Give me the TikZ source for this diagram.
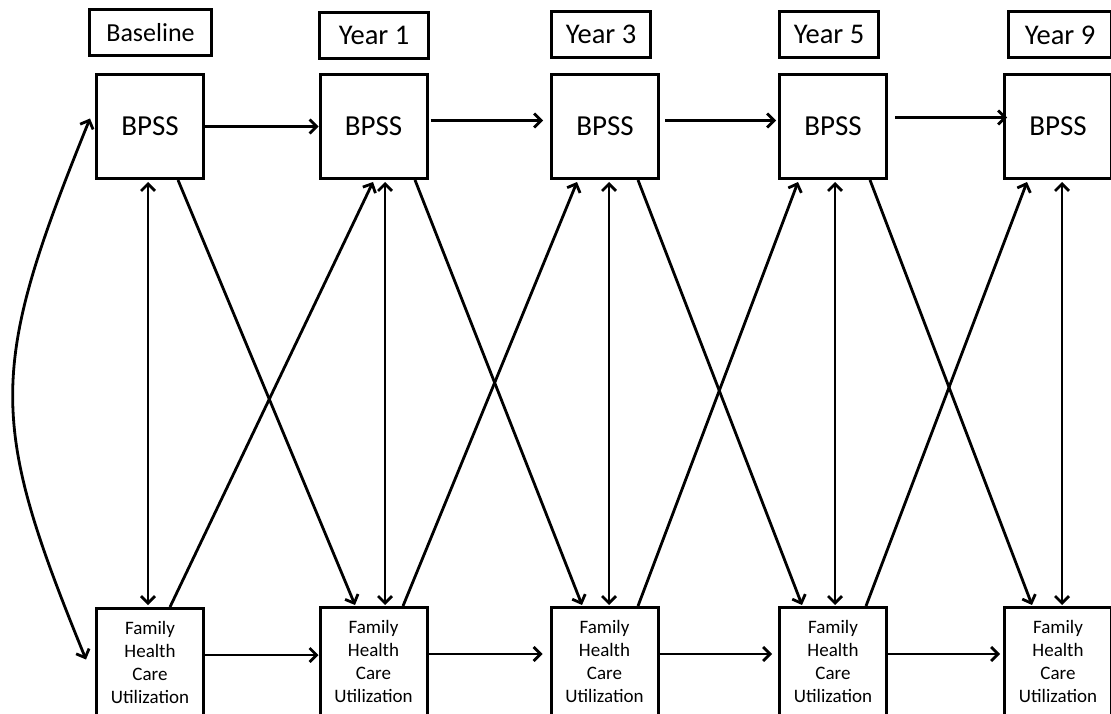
\documentclass[tikz,border=0pt]{standalone}
\usepackage{fontspec}
\setmainfont{Carlito}
\usetikzlibrary{arrows.meta,calc}
\begin{document}
\begin{tikzpicture}[x=1pt,y=-1pt,
  box/.style={draw,line width=3pt,inner sep=0pt},
  bpss/.style={box,minimum width=107pt,minimum height=104pt,font=\fontsize{29}{31}\selectfont},
  fhcu/.style={box,minimum width=107pt,minimum height=108pt,align=center,font=\fontsize{19}{23}\selectfont},
  lab/.style={box,minimum height=46pt,font=\fontsize{28.5}{30}\selectfont},
  tipa/.tip={Straight Barb[length=7pt,width=14pt]},
  arr/.style={line width=2.8pt,-tipa},
  darr/.style={line width=2.8pt,tipa-tipa}]
\useasboundingbox (0,0) rectangle (1111,714);
\clip (0,0) rectangle (1111,714);
% labels
\node[lab,minimum width=122pt,font=\fontsize{26}{28}\selectfont] (l0) at (150.5,33) {Baseline};
\node[lab,minimum width=109pt] (l1) at (374,35.5) {Year 1};
\node[lab,minimum width=99pt] (l2) at (601,34.5) {Year 3};
\node[lab,minimum width=99pt] (l3) at (829,34.5) {Year 5};
\node[lab,minimum width=103pt] (l4) at (1060,35) {Year 9};
% BPSS
\node[bpss] (b0) at (150,126.5) {BPSS};
\node[bpss] (b1) at (373.5,126.5) {BPSS};
\node[bpss] (b2) at (605,126.5) {BPSS};
\node[bpss] (b3) at (833,126.5) {BPSS};
\node[bpss] (b4) at (1058,126.5) {BPSS};
% FHCU
\node[fhcu] (f0) at (150,662.5) {Family\\Health\\Care\\Utilization};
\node[fhcu] (f1) at (373.5,661.5) {Family\\Health\\Care\\Utilization};
\node[fhcu] (f2) at (604.5,661.5) {Family\\Health\\Care\\Utilization};
\node[fhcu] (f3) at (833,661.5) {Family\\Health\\Care\\Utilization};
\node[fhcu] (f4) at (1058,661.5) {Family\\Health\\Care\\Utilization};
% horizontal top
\draw[arr] (b0.east) -- (b1.west);
\draw[arr] ($(b1.east)+(2,-6)$) -- ($(b2.west)+(-7,-6)$);
\draw[arr] ($(b2.east)+(5,-6)$) -- ($(b3.west)+(-2,-6)$);
\draw[arr] ($(b3.east)+(7,-9)$) -- ($(b4.west)+(4,-9)$);
% horizontal bottom
\draw[arr] ($(f0.east)+(0,-7.5)$) -- ($(f1.west)+(0,-6.5)$);
\draw[arr] ($(f1.east)+(0,-7.5)$) -- ($(f2.west)+(-7,-7.5)$);
\draw[arr] ($(f2.east)+(0,-7.5)$) -- ($(f3.west)+(-6,-7.5)$);
\draw[arr] ($(f3.east)+(0,-7.5)$) -- ($(f4.west)+(-3,-7.5)$);
% vertical double
\draw[darr] ($(b0.south)+(-2,2)$) -- ($(f0.north)+(-2,-2)$);
\draw[darr] ($(b1.south)+(11.5,2)$) -- ($(f1.north)+(11.5,-1)$);
\draw[darr] ($(b2.south)+(4,2)$) -- ($(f2.north)+(4.5,-1)$);
\draw[darr] ($(b3.south)+(2,2)$) -- ($(f3.north)+(2,-1)$);
\draw[darr] ($(b4.south)+(4,2)$) -- ($(f4.north)+(4,-1)$);
% diagonals down
\draw[arr] ($(b0.south)+(28,0)$) -- ($(f1.north)+(-18.5,-1)$);
\draw[arr] ($(b1.south)+(41.5,0)$) -- ($(f2.north)+(-22.5,-1)$);
\draw[arr] ($(b2.south)+(33,0)$) -- ($(f3.north)+(-31,-1)$);
\draw[arr] ($(b3.south)+(37,0)$) -- ($(f4.north)+(-26,-1)$);
% diagonals up
\draw[arr] ($(f0.north)+(20,0)$) -- ($(b1.south)+(-0.5,2)$);
\draw[arr] ($(f1.north)+(29.5,0)$) -- ($(b2.south)+(-28,2)$);
\draw[arr] ($(f2.north)+(33.5,0)$) -- ($(b3.south)+(-35,2)$);
\draw[arr] ($(f3.north)+(33,0)$) -- ($(b4.south)+(-31,2)$);
% curved
\draw[darr] ($(b0.west)+(-5,-8)$) .. controls (-12,370) and (-12,420) .. ($(f0.west)+(-9,-3)$);
\end{tikzpicture}
\end{document}
